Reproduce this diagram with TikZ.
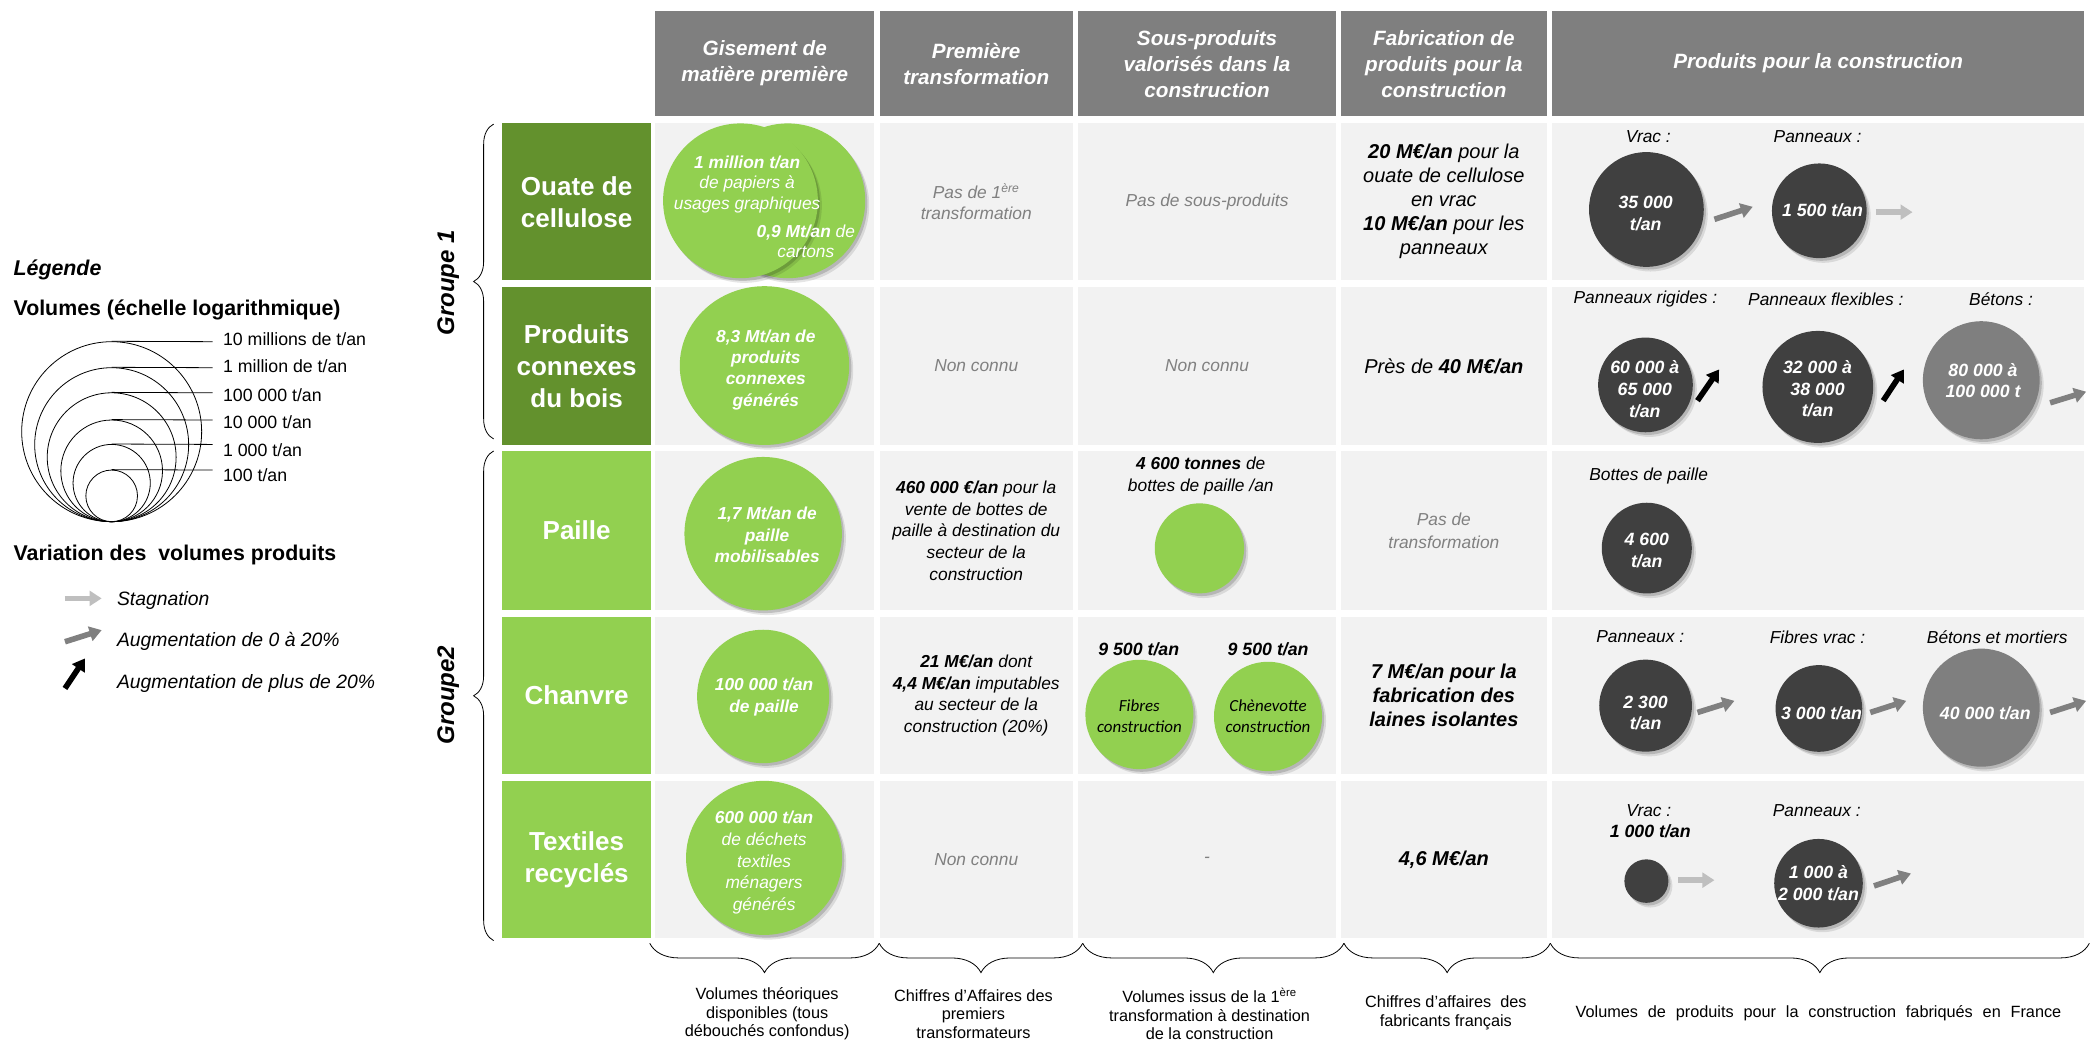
\documentclass[tikz,border=0pt]{standalone}
\usepackage{fontspec}
\setmainfont{Liberation Sans}
\newfontfamily\calibri{Carlito}
\usetikzlibrary{shapes.geometric,arrows.meta,decorations.pathreplacing,shadows}
\definecolor{hdrgray}{HTML}{7F7F7F}
\definecolor{cellbg}{HTML}{F2F2F2}
\definecolor{dgreen}{RGB}{99,145,45}
\definecolor{lgreen}{HTML}{92D050}
\definecolor{dkgray}{HTML}{404040}
\definecolor{midgray}{HTML}{7F7F7F}
\definecolor{gtxt}{HTML}{808080}
\definecolor{arrlight}{HTML}{BFBFBF}
\definecolor{arrmid}{HTML}{808080}
\newcommand\hdrfont{\fontsize{15.5}{19.5}\selectfont\bfseries\itshape}
\newcommand\labfont{\fontsize{19.5}{24}\selectfont\bfseries}
\newcommand\circfont{\fontsize{13}{15.3}\selectfont\itshape}
\newcommand\bodyfont{\fontsize{13}{16.3}\selectfont\itshape}
\newcommand\bigbody{\fontsize{15}{18}\selectfont\itshape}
\newcommand\numfont{\fontsize{13.3}{16.3}\selectfont\bfseries\itshape}
\newcommand\botfont{\fontsize{12.2}{14}\selectfont}
\tikzset{
  x=1pt, y=-1pt,
  hdrbox/.style={fill=hdrgray, text=white, font=\hdrfont, align=center, inner sep=0pt, anchor=north west},
  cellbox/.style={fill=cellbg, align=center, inner sep=0pt, anchor=north west},
  labbox/.style={text=white, font=\labfont, align=center, inner sep=0pt, anchor=north west},
  shad/.style={drop shadow={shadow xshift=3pt, shadow yshift=-3.5pt, opacity=0.10, fill=black},
               drop shadow={shadow xshift=1.6pt, shadow yshift=-2pt, opacity=0.16, fill=black}},
  gcirc/.style={ellipse, fill=lgreen, inner sep=0pt, shad},
  dcirc/.style={ellipse, fill=dkgray, inner sep=0pt, shad},
  mcirc/.style={ellipse, fill=midgray, inner sep=0pt, shad},
  wtxt/.style={text=white, align=center, inner sep=0pt, font=\circfont},
  wnum/.style={text=white, align=center, inner sep=0pt, font=\numfont},
  prodlab/.style={align=center, inner sep=0pt, font=\bodyfont},
  fatarrow/.style={line width=4.2pt, -{Triangle[width=11pt,length=9pt]}},
  bracedeco/.style={decorate, decoration={brace, amplitude=#1}, line width=0.6pt},
  legcirc/.style={circle, draw, line width=0.6pt, inner sep=0pt},
  leglab/.style={anchor=west, inner sep=0pt, font=\fontsize{13.3}{15}\selectfont},
  legarr/.style={anchor=west, inner sep=0pt, font=\fontsize{14.5}{16}\selectfont\itshape},
  legtitle/.style={anchor=west, inner sep=0pt, font=\fontsize{16}{18}\selectfont\bfseries},
  bottxt/.style={align=center, inner sep=0pt, font=\botfont},
}
\begin{document}
\begin{tikzpicture}
\useasboundingbox[fill=white] (0,0) rectangle (1568,787);

% ---------------- Legend ----------------
\node[legtitle, font=\fontsize{16}{18}\selectfont\bfseries\itshape] (legT) at (10,202) {Légende};
\node[legtitle] (legV) at (10,232) {Volumes (échelle logarithmique)};
\node[legcirc, minimum size=134.9pt] (lc1) at (83.7,323.55) {};
\node[legcirc, minimum size=115.4pt] (lc2) at (83.7,333.3) {};
\node[legcirc, minimum size=96.6pt] (lc3) at (83.7,342.7) {};
\node[legcirc, minimum size=76.2pt] (lc4) at (83.7,352.9) {};
\node[legcirc, minimum size=57.9pt] (lc5) at (83.7,362.05) {};
\node[legcirc, minimum size=38.7pt] (lc6) at (83.7,371.65) {};
\node[leglab] (ll1) at (167,254.4) {10 millions de t/an};
\node[leglab] (ll2) at (167,274.4) {1 million de t/an};
\node[leglab] (ll3) at (167,296.1) {100 000 t/an};
\node[leglab] (ll4) at (167,316.3) {10 000 t/an};
\node[leglab] (ll5) at (167,337.3) {1 000 t/an};
\node[leglab] (ll6) at (167,356.1) {100 t/an};
\coordinate (le1) at (159.4,256.1);
\coordinate (le2) at (159.4,275.6);
\coordinate (le3) at (159.4,294.4);
\coordinate (le4) at (159.4,314.8);
\coordinate (le5) at (159.4,333.1);
\coordinate (le6) at (159.4,352.3);
\foreach \i in {1,...,6} {\draw[line width=0.6pt] (lc\i.north) -- (le\i);}
\node[legtitle] (legVar) at (10,416) {Variation des \ volumes produits};
\coordinate (la1s) at (48.7,448.5); \coordinate (la1e) at (76.2,448.5);
\coordinate (la2s) at (48.7,481); \coordinate (la2e) at (76.2,472.3);
\coordinate (la3s) at (48.7,516); \coordinate (la3e) at (63.7,493.5);
\draw[fatarrow, arrlight] (la1s) -- (la1e);
\draw[fatarrow, arrmid] (la2s) -- (la2e);
\draw[fatarrow, black] (la3s) -- (la3e);
\node[legarr] (lt1) at (87.5,450) {Stagnation};
\node[legarr] (lt2) at (87.5,481) {Augmentation de 0 à 20\%};
\node[legarr] (lt3) at (87.5,512) {Augmentation de plus de 20\%};

% ---------------- Groups ----------------
\node[rotate=90, inner sep=0pt, font=\fontsize{18}{20}\selectfont\bfseries\itshape] (g1) at (336,212) {Groupe 1};
\node[rotate=90, inner sep=0pt, font=\fontsize{18}{20}\selectfont\bfseries\itshape] (g2) at (336,521) {Groupe2};
\draw[bracedeco=15pt] (370,329) -- (370,93);
\draw[bracedeco=15pt] (370,705) -- (370,338);

% ---------------- Header ----------------
\node[hdrbox, minimum width=164pt, minimum height=79pt] (h1) at (491,8) {Gisement de\\matière première};
\node[hdrbox, minimum width=145pt, minimum height=79pt] (h2) at (659,8) {Première\\transformation};
\node[hdrbox, minimum width=193pt, minimum height=79pt] (h3) at (808,8) {Sous-produits\\valorisés dans la\\construction};
\node[hdrbox, minimum width=154pt, minimum height=79pt] (h4) at (1005,8) {Fabrication de\\produits pour la\\construction};
\node[hdrbox, minimum width=399pt, minimum height=79pt] (h5) at (1163,8) {Produits pour la construction};

% ---------------- Row labels ----------------
\node[labbox, fill=dgreen, minimum width=112pt, minimum height=118pt] (l1) at (376,92) {Ouate de\\cellulose};
\node[labbox, fill=dgreen, minimum width=112pt, minimum height=118pt] (l2) at (376,215) {Produits\\connexes\\du bois};
\node[labbox, fill=lgreen, minimum width=112pt, minimum height=119pt] (l3) at (376,338) {Paille};
\node[labbox, fill=lgreen, minimum width=112pt, minimum height=118pt] (l4) at (376,462) {Chanvre};
\node[labbox, fill=lgreen, minimum width=112pt, minimum height=118pt] (l5) at (376,585) {Textiles\\recyclés};

% ---------------- Cells ----------------
% column 1
\node[cellbox, minimum width=164pt, minimum height=118pt] (c11) at (491,92) {};
\node[cellbox, minimum width=164pt, minimum height=118pt] (c21) at (491,215) {};
\node[cellbox, minimum width=164pt, minimum height=119pt] (c31) at (491,338) {};
\node[cellbox, minimum width=164pt, minimum height=118pt] (c41) at (491,462) {};
\node[cellbox, minimum width=164pt, minimum height=118pt] (c51) at (491,585) {};
% column 2
\node[cellbox, font=\bodyfont, text=gtxt, minimum width=145pt, minimum height=118pt] (c12) at (659,92) {Pas de 1\textsuperscript{ère}\\transformation};
\node[cellbox, font=\bodyfont, text=gtxt, minimum width=145pt, minimum height=118pt] (c22) at (659,215) {Non connu};
\node[cellbox, font=\bodyfont, minimum width=145pt, minimum height=119pt] (c32) at (659,338) {{\bfseries 460 000 €/an} pour la\\vente de bottes de\\paille à destination du\\secteur de la\\construction};
\node[cellbox, font=\bodyfont, minimum width=145pt, minimum height=118pt] (c42) at (659,462) {{\bfseries 21 M€/an} dont\\{\bfseries 4,4 M€/an} imputables\\au secteur de la\\construction (20\%)};
\node[cellbox, font=\bodyfont, text=gtxt, minimum width=145pt, minimum height=118pt] (c52) at (659,585) {Non connu};
% column 3
\node[cellbox, font=\bodyfont, text=gtxt, minimum width=193pt, minimum height=118pt] (c13) at (808,92) {Pas de sous-produits};
\node[cellbox, font=\bodyfont, text=gtxt, minimum width=193pt, minimum height=118pt] (c23) at (808,215) {Non connu};
\node[cellbox, minimum width=193pt, minimum height=119pt] (c33) at (808,338) {};
\node[cellbox, minimum width=193pt, minimum height=118pt] (c43) at (808,462) {};
\node[cellbox, font=\bodyfont, text=gtxt, minimum width=193pt, minimum height=118pt] (c53) at (808,585) {-};
% column 4
\node[cellbox, font=\bigbody, minimum width=154pt, minimum height=118pt] (c14) at (1005,92) {{\bfseries 20 M€/an} pour la\\ouate de cellulose\\en vrac\\{\bfseries 10 M€/an} pour les\\panneaux};
\node[cellbox, font=\bigbody, minimum width=154pt, minimum height=118pt] (c24) at (1005,215) {Près de {\bfseries 40 M€/an}};
\node[cellbox, font=\fontsize{13}{17}\selectfont\itshape, text=gtxt, minimum width=154pt, minimum height=119pt] (c34) at (1005,338) {Pas de\\transformation};
\node[cellbox, font=\fontsize{15}{17.7}\selectfont\bfseries\itshape, minimum width=154pt, minimum height=118pt] (c44) at (1005,462) {7 M€/an pour la\\fabrication des\\laines isolantes};
\node[cellbox, font=\fontsize{15}{17.7}\selectfont\bfseries\itshape, minimum width=154pt, minimum height=118pt] (c54) at (1005,585) {4,6 M€/an};
% column 5
\node[cellbox, minimum width=399pt, minimum height=118pt] (c15) at (1163,92) {};
\node[cellbox, minimum width=399pt, minimum height=118pt] (c25) at (1163,215) {};
\node[cellbox, minimum width=399pt, minimum height=119pt] (c35) at (1163,338) {};
\node[cellbox, minimum width=399pt, minimum height=118pt] (c45) at (1163,462) {};
\node[cellbox, minimum width=399pt, minimum height=118pt] (c55) at (1163,585) {};

% ---------------- Column 1 circles ----------------
\node[gcirc, minimum width=116pt, minimum height=116pt] (g11b) at (590.5,150.5) {};
\node[gcirc, minimum width=116pt, minimum height=116pt] (g11a) at (555,150.5) {};
\node[wtxt] (t11a) at (560,138) {{\bfseries 1 million t/an}\\de papiers à\\usages graphiques};
\node[wtxt] (t11b) at (604,181) {{\bfseries 0,9 Mt/an} de\\cartons};
\node[gcirc, minimum width=127pt, minimum height=119pt] (g21) at (573,274) {};
\node[wtxt, font=\fontsize{13}{16}\selectfont\bfseries\itshape] (t21) at (574,277) {8,3 Mt/an de\\produits\\connexes\\générés};
\node[gcirc, minimum width=118pt, minimum height=115pt] (g31) at (572,400) {};
\node[wtxt, font=\fontsize{13}{16.3}\selectfont\bfseries\itshape] (t31) at (575,401) {1,7 Mt/an de\\paille\\mobilisables};
\node[gcirc, minimum width=99pt, minimum height=100pt] (g41) at (572,522) {};
\node[wtxt, font=\fontsize{13}{16.3}\selectfont\bfseries\itshape] (t41) at (572.7,522.4) {100 000 t/an\\de paille};
\node[gcirc, minimum width=117pt, minimum height=115.5pt] (g51) at (572.7,643) {};
\node[wtxt, font=\fontsize{13}{16.3}\selectfont\itshape] (t51) at (572.7,646.6) {{\bfseries 600 000 t/an}\\de déchets\\textiles\\ménagers\\générés};

% ---------------- Column 3 content ----------------
\node[prodlab, font=\fontsize{13}{16.7}\selectfont\itshape] (t33) at (900,357) {{\bfseries 4 600 tonnes} de\\bottes de paille /an};
\node[gcirc, minimum width=67pt, minimum height=67.5pt] (g33) at (899,411) {};
\node[prodlab, font=\numfont] (t43a) at (853.5,486.8) {9 500 t/an};
\node[prodlab, font=\numfont] (t43b) at (950.5,486.8) {9 500 t/an};
\node[gcirc, minimum width=81pt, minimum height=82pt] (g43a) at (854,535.5) {};
\node[gcirc, minimum width=81pt, minimum height=82pt] (g43b) at (950.4,537) {};
\node[align=center, inner sep=0pt, font=\calibri\fontsize{12.7}{15.7}\selectfont\itshape] (f43a) at (854,536.8) {Fibres\\construction};
\node[align=center, inner sep=0pt, font=\calibri\fontsize{12.7}{15.7}\selectfont\itshape] (f43b) at (950.4,536.8) {Chènevotte\\construction};

% ---------------- Column 5 content ----------------
% row 1
\node[prodlab] (p1a) at (1235.4,102.5) {Vrac :};
\node[prodlab] (p1b) at (1362.3,102.5) {Panneaux :};
\node[dcirc, minimum width=86pt, minimum height=86pt] (d1a) at (1234,157) {};
\node[wnum] (n1a) at (1233.5,160) {35 000\\t/an};
\node[dcirc, minimum width=71pt, minimum height=71pt] (d1b) at (1363.6,158) {};
\node[wnum] (n1b) at (1366,157.4) {1 500 t/an};
\coordinate (a1s) at (1285,164.4); \coordinate (a1e) at (1313.7,155);
\coordinate (a2s) at (1406,159); \coordinate (a2e) at (1433.5,159);
\draw[fatarrow, arrmid] (a1s) -- (a1e);
\draw[fatarrow, arrlight] (a2s) -- (a2e);
% row 2
\node[prodlab] (p2a) at (1233.3,224.4) {Panneaux rigides :};
\node[prodlab] (p2b) at (1368.5,224.4) {Panneaux flexibles :};
\node[prodlab] (p2c) at (1499.8,224.4) {Bétons :};
\node[dcirc, minimum width=71pt, minimum height=71pt] (d2a) at (1233.3,288.5) {};
\node[wnum] (n2a) at (1232.8,291.7) {60 000 à\\65 000\\t/an};
\node[dcirc, minimum width=83pt, minimum height=84pt] (d2b) at (1362.5,290) {};
\node[wnum] (n2b) at (1362.3,291.5) {32 000 à\\38 000\\t/an};
\node[mcirc, minimum width=87.5pt, minimum height=88.5pt] (d2c) at (1485,285) {};
\node[wnum] (n2c) at (1486.3,285.2) {80 000 à\\100 000 t};
\coordinate (a3s) at (1272.3,300.3); \coordinate (a3e) at (1288.5,276.9);
\coordinate (a4s) at (1411.5,300.3); \coordinate (a4e) at (1427,276.9);
\coordinate (a5s) at (1536.6,301.9); \coordinate (a5e) at (1563.6,293.6);
\draw[fatarrow, black] (a3s) -- (a3e);
\draw[fatarrow, black] (a4s) -- (a4e);
\draw[fatarrow, arrmid] (a5s) -- (a5e);
% row 3
\node[prodlab] (p3a) at (1235.7,356.8) {Bottes de paille};
\node[dcirc, minimum width=67.5pt, minimum height=68pt] (d3a) at (1234.3,410.8) {};
\node[wnum] (n3a) at (1234.3,412.6) {4 600\\t/an};
% row 4
\node[prodlab] (p4a) at (1229.4,477.3) {Panneaux :};
\node[prodlab] (p4b) at (1362.3,477.3) {Fibres vrac :};
\node[prodlab] (p4c) at (1497,477.3) {Bétons et mortiers};
\node[dcirc, minimum width=69.5pt, minimum height=69pt] (d4a) at (1233.4,528.9) {};
\node[wnum] (n4a) at (1233.4,534.3) {2 300\\t/an};
\node[dcirc, minimum width=65pt, minimum height=65pt] (d4b) at (1363.3,531) {};
\node[wnum] (n4b) at (1365.3,534.7) {3 000 t/an};
\node[mcirc, minimum width=87.5pt, minimum height=88.5pt] (d4c) at (1485,530.4) {};
\node[wnum] (n4c) at (1488,534.7) {40 000 t/an};
\coordinate (a6s) at (1272.3,534); \coordinate (a6e) at (1300,525.3);
\coordinate (a7s) at (1401.8,534); \coordinate (a7e) at (1428.8,525.3);
\coordinate (a8s) at (1536.6,534); \coordinate (a8e) at (1563.6,525.3);
\draw[fatarrow, arrmid] (a6s) -- (a6e);
\draw[fatarrow, arrmid] (a7s) -- (a7e);
\draw[fatarrow, arrmid] (a8s) -- (a8e);
% row 5
\node[prodlab] (p5a) at (1235.8,607.2) {Vrac :};
\node[prodlab, font=\numfont] (p5v) at (1236.9,623) {1 000 t/an};
\node[prodlab] (p5b) at (1361.7,607.2) {Panneaux :};
\node[dcirc, minimum width=33pt, minimum height=32.6pt] (d5a) at (1234,660.4) {};
\node[dcirc, minimum width=66.4pt, minimum height=66.4pt] (d5b) at (1363,662) {};
\node[wnum] (n5b) at (1363,662.2) {1 000 à\\2 000 t/an};
\coordinate (a9s) at (1258,659.7); \coordinate (a9e) at (1285,659.7);
\coordinate (a10s) at (1404.6,664); \coordinate (a10e) at (1432.3,654.7);
\draw[fatarrow, arrlight] (a9s) -- (a9e);
\draw[fatarrow, arrmid] (a10s) -- (a10e);

% ---------------- Bottom braces and captions ----------------
\draw[bracedeco=22pt] (659,707) -- (487,707);
\draw[bracedeco=22pt] (811.5,707) -- (659,707);
\draw[bracedeco=22pt] (1007.3,707) -- (811.5,707);
\draw[bracedeco=22pt] (1162,707) -- (1007.3,707);
\draw[bracedeco=22pt] (1566,707) -- (1162,707);
\node[bottxt] (b1) at (575,760) {Volumes théoriques\\disponibles (tous\\débouchés confondus)};
\node[bottxt] (b2) at (729.6,760) {Chiffres d’Affaires des\\premiers\\transformateurs};
\node[bottxt] (b3) at (906.6,760) {Volumes issus de la 1\textsuperscript{ère}\\transformation à destination\\de la construction};
\node[bottxt] (b4) at (1083.7,759) {Chiffres d’affaires \ des\\fabricants français};
\node[bottxt] (b5) at (1363,759.6) {\makebox[364pt][s]{Volumes de produits pour la construction fabriqués en France}};
\end{tikzpicture}
\end{document}
